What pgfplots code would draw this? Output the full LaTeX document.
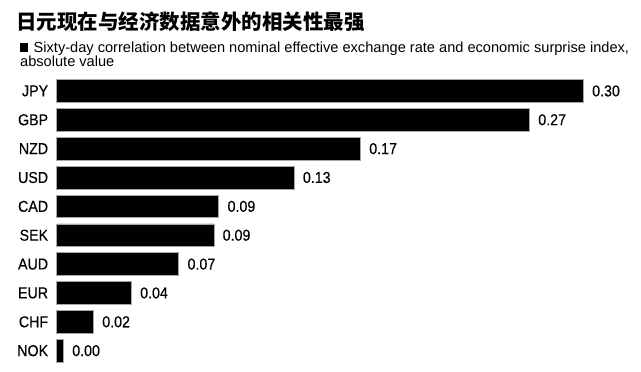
\documentclass[border=0pt]{standalone}
\usepackage{fontspec}
\setmainfont{Liberation Sans}
\newfontfamily\cjk{Noto Sans CJK SC Black}
\newfontfamily\labelfont[FakeStretch=0.9,FakeBold=0.3]{Liberation Sans}
\usepackage{pgfplots}
\usepackage{pgfplotstable}
\pgfplotsset{compat=1.18}
\pgfplotstableread{
val idx lab
0.3000 0 0.30
0.2693 1 0.27
0.1730 2 0.17
0.1352 3 0.13
0.0923 4 0.09
0.0895 5 0.09
0.0695 6 0.07
0.0425 7 0.04
0.0209 8 0.02
0.0038 9 0.00
}\datatable
\begin{document}
\begin{tikzpicture}
\useasboundingbox (0,0) rectangle (641bp,372bp);
\node[anchor=base west, inner sep=0] at (16bp,342.5bp) {\cjk\fontsize{20.5bp}{24bp}\selectfont 日元现在与经济数据意外的相关性最强};
\node[anchor=base west, inner sep=0] at (20bp,319.7bp) {\fontsize{14.6bp}{16bp}\selectfont \rule{7.5bp}{9.6bp}\hspace{6bp}Sixty-day correlation between nominal effective exchange rate and economic surprise index,};
\node[anchor=base west, inner sep=0] at (20bp,305.3bp) {\fontsize{14.6bp}{16bp}\selectfont absolute value};
\begin{axis}[
  at={(56.7bp,6.9bp)}, anchor=south west,
  scale only axis, width=526.6bp, height=288.6bp,
  xmin=0, xmax=0.30, ymin=-0.5, ymax=9.5,
  y dir=reverse, clip=false,
  axis line style={draw=none}, hide x axis,
  ytick={0,...,9},
  yticklabels={JPY,GBP,NZD,USD,CAD,SEK,AUD,EUR,CHF,NOK},
  major tick length=0,
  yticklabel style={anchor=east, inner sep=0, xshift=-8.4bp, font=\labelfont\fontsize{15.8bp}{18bp}\selectfont},
  xbar, bar width=22.6bp, bar shift=0pt,
  point meta=explicit symbolic,
  nodes near coords,
  nodes near coords style={anchor=west, inner sep=0, xshift=8.6bp, font=\labelfont\fontsize{15.8bp}{18bp}\selectfont},
]
\addplot[fill=black, draw=gray!70, line width=0.6bp] table[x=val, y=idx, meta=lab] {\datatable};
\end{axis}
\end{tikzpicture}
\end{document}
